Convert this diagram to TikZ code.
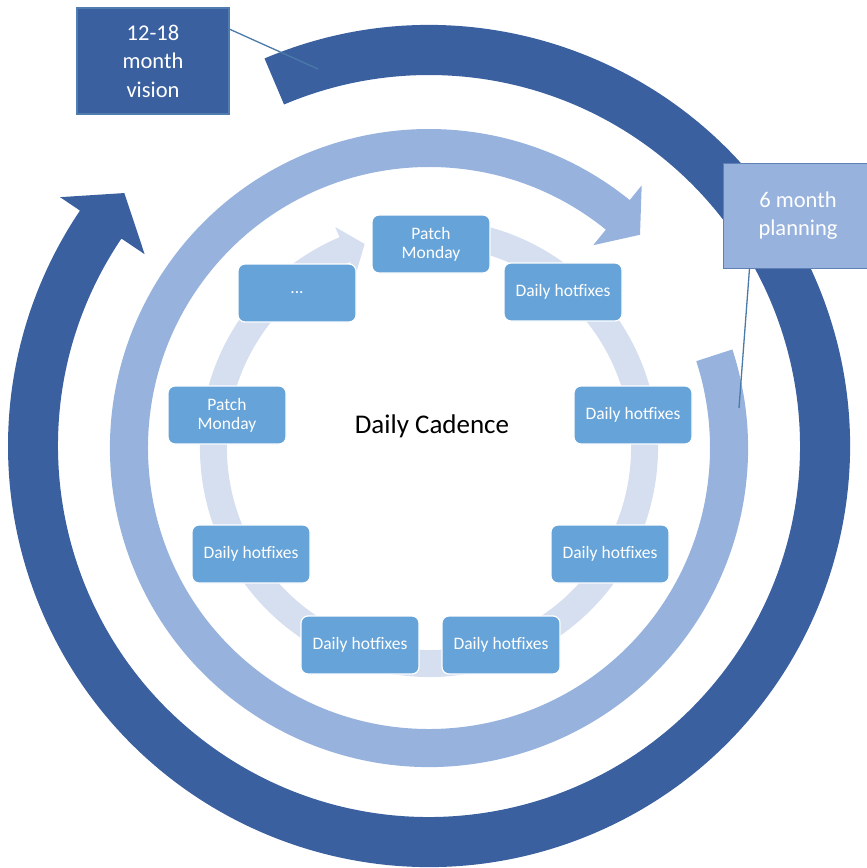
\documentclass[tikz,border=0pt]{standalone}
\usepackage{fontspec}
\setmainfont{Carlito}
\usetikzlibrary{calc}
\definecolor{darkblue}{RGB}{58,96,160}
\definecolor{midblue}{RGB}{151,178,221}
\definecolor{paleblue}{RGB}{214,223,240}
\definecolor{boxfill}{RGB}{102,163,216}
\definecolor{calloutc}{RGB}{74,122,168}
\definecolor{darkedge}{RGB}{79,125,176}
\definecolor{midedge}{RGB}{95,128,180}
\begin{document}
\begin{tikzpicture}[x=1pt,y=1pt,
  stepbox/.style={draw=white, line width=1.2pt, fill=boxfill, rounded corners=7pt,
    minimum width=118pt, minimum height=58pt, text=white, align=center,
    font=\fontsize{17.5}{18.7}\selectfont, inner sep=2pt},
  labelbox/.style={line width=1.5pt, text=white, align=center,
    font=\fontsize{22.5}{28.5}\selectfont, inner sep=2pt},
  callout/.style={draw=calloutc, line width=1.3pt}]
\useasboundingbox (0,0) rectangle (867,-868);
\coordinate (C) at (429,-446);
\coordinate (C2) at (429,-448);
% outer dark circular arrow
\fill[darkblue] ($(C)+(113:421)$) arc[start angle=113, end angle=-214, radius=421]
  -- ($(C)+(146:445)$) -- ($(C)+(140.3:396)$) -- ($(C)+(146:343)$)
  -- ($(C)+(146:371)$) arc[start angle=-214, end angle=113, radius=371] -- cycle;
% middle circular arrow
\fill[midblue] ($(C2)+(18:319)$) arc[start angle=18, end angle=-309, radius=319]
  -- ($(C2)+(51:338)$) -- ($(C2)+(45.3:300)$) -- ($(C2)+(51:261)$)
  -- ($(C2)+(51:281)$) arc[start angle=-309, end angle=18, radius=281] -- cycle;
% inner circular arrow
\fill[paleblue] ($(C2)+(80:229)$) arc[start angle=80, end angle=-247, radius=229]
  -- ($(C2)+(113:240)$) -- ($(C2)+(107.5:214)$) -- ($(C2)+(113:188)$)
  -- ($(C2)+(113:202)$) arc[start angle=-247, end angle=80, radius=202] -- cycle;
% step boxes
\node[stepbox] (pm1) at (431,-244) {Patch\\Monday};
\node[stepbox] (dh1) at (563,-292) {Daily hotfixes};
\node[stepbox] (dh2) at (633,-415) {Daily hotfixes};
\node[stepbox] (dh3) at (610,-554) {Daily hotfixes};
\node[stepbox] (dh4) at (501,-645) {Daily hotfixes};
\node[stepbox] (dh5) at (360,-645) {Daily hotfixes};
\node[stepbox] (dh6) at (251,-554) {Daily hotfixes};
\node[stepbox] (pm2) at (227,-415) {Patch\\Monday};
\node[stepbox] (dots) at (297,-293) {...};
\node[font=\fontsize{27}{30}\selectfont, text=black] (cad) at (432,-426) {Daily Cadence};
% label boxes
\node[labelbox, draw=darkedge, fill=darkblue, minimum width=152pt, minimum height=106pt]
  (vision) at (153,-61) {12-18\\month\\vision};
\begin{scope}
\clip (0,0) rectangle (867,-868);
\node[labelbox, draw=midedge, line width=1pt, fill=midblue, minimum width=150pt, minimum height=105pt]
  (plan) at (798,-215.5) {6 month\\planning};
\end{scope}
\coordinate (v1) at (318,-69);
\coordinate (p1) at (739,-408);
\draw[callout] ([yshift=-22pt]vision.north east) -- (v1);
\draw[callout] ([xshift=27pt]plan.south west) -- (p1);
\end{tikzpicture}
\end{document}
